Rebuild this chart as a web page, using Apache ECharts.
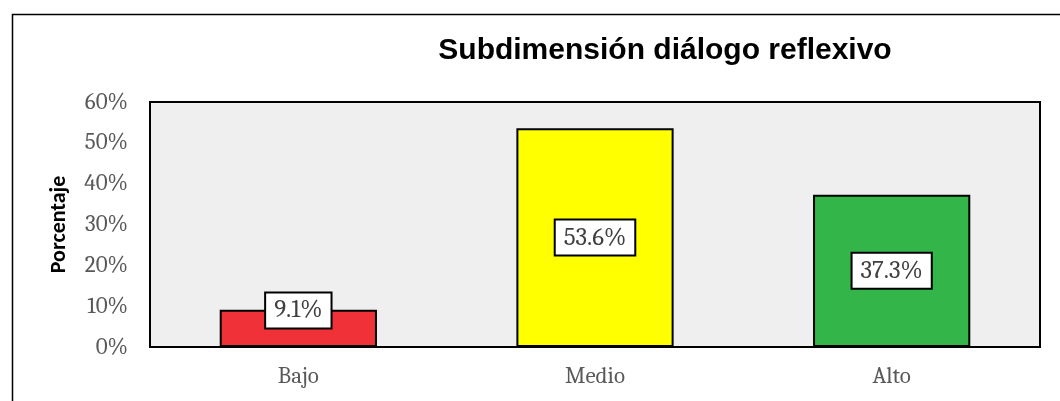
<!DOCTYPE html>
<html>
<head>
<meta charset="utf-8">
<script src="https://cdn.jsdelivr.net/npm/echarts@6/dist/echarts.min.js"></script>
<style>
    html, body { margin: 0; padding: 0; background: #fff; }
    #chart { width: 1060px; height: 401px; }
</style>
</head>
<body>
<div id="chart"></div>
<script>
// datos
const categories = ["Bajo", "Medio", "Alto"]
const values = [9.1, 53.6, 37.3]
const barColors = ["#f03238", "#ffff00", "#33b54a"]

const serif = "Cambria, 'Liberation Serif', 'DejaVu Serif', serif"

var myChart = echarts.init(document.getElementById("chart"))

var option = {
    backgroundColor: "#fff",
    animation: false,
    graphic: [
        {
            type: "rect",
            left: 10,
            top: 12,
            shape: { width: 1100, height: 500 },
            style: { fill: "none", stroke: "#000", lineWidth: 1.5 },
            silent: true
        }
    ],
    title: {
        text: "Subdimensión diálogo reflexivo",
        left: 660,
        textAlign: "center",
        top: 31,
        textStyle: {
            fontFamily: "Arial, 'Liberation Sans', sans-serif",
            fontWeight: "bold",
            fontSize: 30,
            color: "#000"
        }
    },
    grid: {
        left: 150,
        top: 102,
        width: 890,
        height: 245,
        show: true,
        backgroundColor: "#efefef",
        borderColor: "#000",
        borderWidth: 2
    },
    xAxis: {
        type: "category",
        data: categories,
        axisLine: { show: false },
        axisTick: { show: false },
        axisLabel: {
            margin: 18,
            fontFamily: serif,
            fontSize: 23,
            color: "#595959"
        }
    },
    yAxis: {
        type: "value",
        min: 0,
        max: 60,
        interval: 10,
        name: "Porcentaje",
        nameLocation: "middle",
        nameGap: 80,
        nameTextStyle: {
            fontFamily: "Calibri, Carlito, 'Open Sans', sans-serif",
            fontWeight: "bold",
            fontSize: 22,
            color: "#000"
        },
        axisLine: { show: false },
        axisTick: { show: false },
        splitLine: { show: false },
        axisLabel: {
            margin: 22,
            fontFamily: serif,
            fontSize: 23,
            color: "#595959",
            formatter: "{value}%"
        }
    },
    series: [
        {
            type: "bar",
            barCategoryGap: "47%",
            data: values.map((v, i) => ({
                value: v,
                itemStyle: { color: barColors[i] },
                label: i === 0 ? { offset: [0, -18] } : undefined
            })),
            itemStyle: {
                borderColor: "#000",
                borderWidth: 2
            },
            label: {
                show: true,
                position: "inside",
                formatter: p => p.value.toFixed(1) + "%",
                fontFamily: serif,
                fontSize: 25,
                color: "#404040",
                backgroundColor: "#fff",
                borderColor: "#000",
                borderWidth: 2,
                padding: [5, 8, 4, 8]
            }
        }
    ]
}

myChart.setOption(option)
</script>
</body>
</html>
